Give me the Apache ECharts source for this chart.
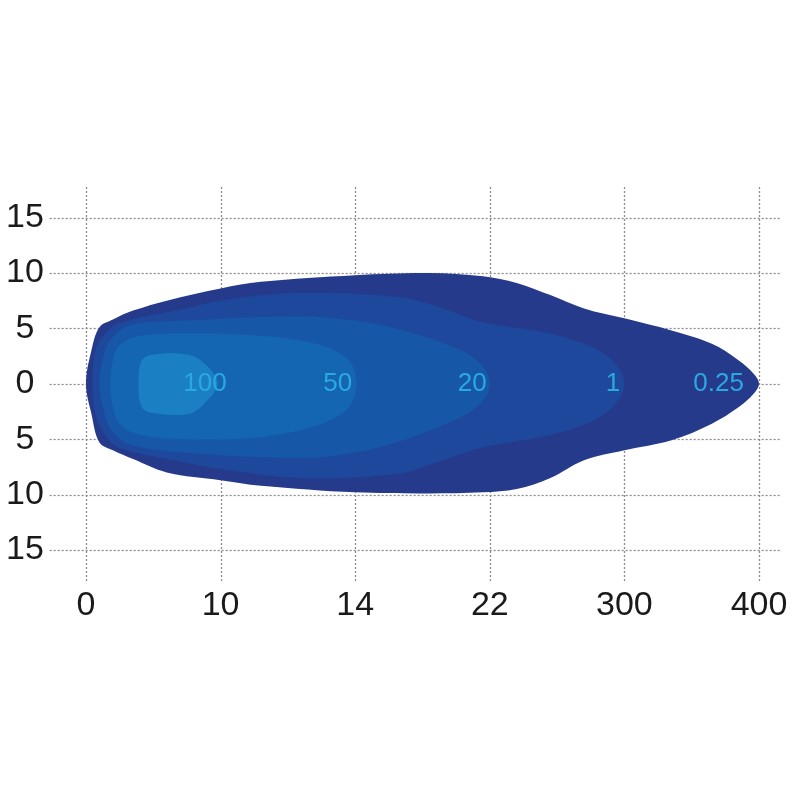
<!DOCTYPE html>
<html><head><meta charset="utf-8">
<script src="https://cdn.jsdelivr.net/npm/echarts@6/dist/echarts.min.js"></script>
<style>html,body{margin:0;padding:0;background:#fff}#c{width:800px;height:800px}</style>
</head><body><div id="c"></div>
<script>
// x axis: category positions 0..5 with these tick labels
const xTickLabels = ['0', '10', '14', '22', '300', '400'];
const yTickValues = [-15, -10, -5, 0, 5, 10, 15];

// isolux contours: [x position, upper edge, lower edge]
const contour025 = [
  [0.0, 0, 0], [0.04, 3.0, -2.7], [0.1, 5.1, -5.3], [0.2, 5.8, -6.0], [0.35, 6.6, -6.8],
  [0.6, 7.5, -8.0], [1.0, 8.6, -8.7], [1.3, 9.2, -9.2], [2.0, 9.8, -9.8], [2.55, 10.0, -9.9],
  [2.95, 9.7, -9.8], [3.2, 9.1, -9.5], [3.45, 8.0, -8.5], [3.7, 6.8, -6.9], [4.0, 5.9, -6.0],
  [4.35, 4.8, -5.1], [4.65, 3.6, -3.6], [4.85, 2.1, -2.1], [4.96, 0.9, -0.9], [5.0, 0, 0]
];
const contour1 = [
  [0.05, 0, 0], [0.07, 3.0, -2.8], [0.14, 4.5, -4.6], [0.25, 5.5, -5.8], [0.74, 6.8, -7.1],
  [1.0, 7.5, -7.7], [1.59, 8.2, -8.5], [2.33, 7.8, -8.1], [2.63, 6.9, -7.0], [2.93, 5.6, -5.8],
  [3.42, 4.6, -4.7], [3.74, 3.4, -3.5], [3.92, 2.0, -2.0], [4.0, 0, 0]
];
const contour20 = [
  [0.1, 0, 0], [0.13, 2.5, -2.4], [0.19, 4.1, -4.2], [0.33, 5.3, -5.5], [0.74, 5.7, -6.2],
  [1.59, 6.1, -6.7], [2.0, 5.7, -6.2], [2.33, 4.9, -5.2], [2.6, 3.9, -4.0], [2.85, 2.6, -2.6],
  [2.97, 1.2, -1.2], [3.0, 0, 0]
];
const contour50 = [
  [0.18, 0, 0], [0.2, 2.1, -2.1], [0.25, 3.5, -3.6], [0.4, 4.3, -4.6], [0.74, 4.55, -5.0],
  [1.22, 4.4, -4.9], [1.59, 3.9, -4.2], [1.81, 3.2, -3.3], [1.96, 2.0, -2.0], [2.01, 0, 0]
];
const contour100 = [
  [0.39, 0, 0], [0.41, 2.0, -2.0], [0.48, 2.6, -2.6], [0.77, 2.6, -2.7], [0.9, 1.6, -1.5], [0.98, 0, 0]
];

const levelNames = ['0.25', '1', '20', '50', '100'];
const levelColors = ['#263a8c', '#1d489b', '#1757a8', '#1566b2', '#1b7fc4'];
const levelContours = [contour025, contour1, contour20, contour50, contour100];

const labelX = [0.884, 1.87, 2.87, 3.915, 4.70];
const labelText = ['100', '50', '20', '1', '0.25'];

const gridExtentX = [-0.27, 5.16];
const gridExtentY = [-17.8, 17.9];

const chart = echarts.init(document.getElementById('c'), null, {renderer: 'canvas'});

const gridStyle = {stroke: '#8a8a8a', lineWidth: 1.3, lineDash: [2, 2]};
const series = [];

// horizontal grid lines
series.push({
  type: 'custom', z: 1, silent: true, animation: false, clip: false,
  data: yTickValues.map(t => [t]),
  renderItem: function (params, api) {
    const t = api.value(0);
    const a = api.coord([gridExtentX[0], t]);
    const b = api.coord([gridExtentX[1], t]);
    return {type: 'line', shape: {x1: a[0], y1: Math.round(a[1]) + 0.5, x2: b[0], y2: Math.round(b[1]) + 0.5},
      style: gridStyle};
  }
});
// vertical grid lines
series.push({
  type: 'custom', z: 1, silent: true, animation: false, clip: false,
  data: xTickLabels.map((l, i) => [i]),
  renderItem: function (params, api) {
    const i = api.value(0);
    const a = api.coord([i, gridExtentY[0]]);
    const b = api.coord([i, gridExtentY[1]]);
    return {type: 'line', shape: {x1: Math.round(a[0]) + 0.5, y1: a[1], x2: Math.round(b[0]) + 0.5, y2: b[1]},
      style: gridStyle};
  }
});

levelContours.forEach((cont, k) => {
  series.push({
    type: 'custom', name: levelNames[k], z: 2 + k, silent: true, animation: false, clip: false,
    data: [0],
    renderItem: function (params, api) {
      const pts = [];
      cont.forEach(r => pts.push(api.coord([r[0], r[1]])));
      for (let i = cont.length - 2; i >= 1; i--) pts.push(api.coord([cont[i][0], cont[i][2]]));
      return {type: 'polygon', shape: {points: pts, smooth: 0.35},
        style: {fill: levelColors[k], stroke: null}};
    }
  });
});

series.push({
  type: 'custom', z: 20, silent: true, animation: false, clip: false,
  data: labelX.map((x, i) => [x, 0, i]),
  renderItem: function (params, api) {
    const p = api.coord([api.value(0), api.value(1)]);
    return {type: 'text', x: p[0], y: p[1],
      style: {text: labelText[api.value(2)], fill: '#2aa9e1',
        font: '26px "Liberation Sans", Arial, sans-serif', align: 'center', verticalAlign: 'middle'}};
  }
});

chart.setOption({
  animation: false,
  backgroundColor: '#ffffff',
  grid: {left: 86, right: 41, top: 217.5, bottom: 250, containLabel: false},
  xAxis: {
    type: 'value', min: 0, max: 5, interval: 1,
    axisLine: {show: false}, axisTick: {show: false}, splitLine: {show: false},
    axisLabel: {formatter: v => xTickLabels[Math.round(v)], color: '#1a1a1a', fontSize: 34,
      fontFamily: '"Liberation Sans", Arial, sans-serif', margin: 39}
  },
  yAxis: {
    type: 'value', min: -15, max: 15, interval: 5,
    axisLine: {show: false}, axisTick: {show: false}, splitLine: {show: false},
    axisLabel: {formatter: v => String(Math.abs(v)), color: '#1a1a1a', fontSize: 34,
      fontFamily: '"Liberation Sans", Arial, sans-serif', margin: 61, align: 'center',
      verticalAlign: 'middle'}
  },
  series: series
});
</script></body></html>
